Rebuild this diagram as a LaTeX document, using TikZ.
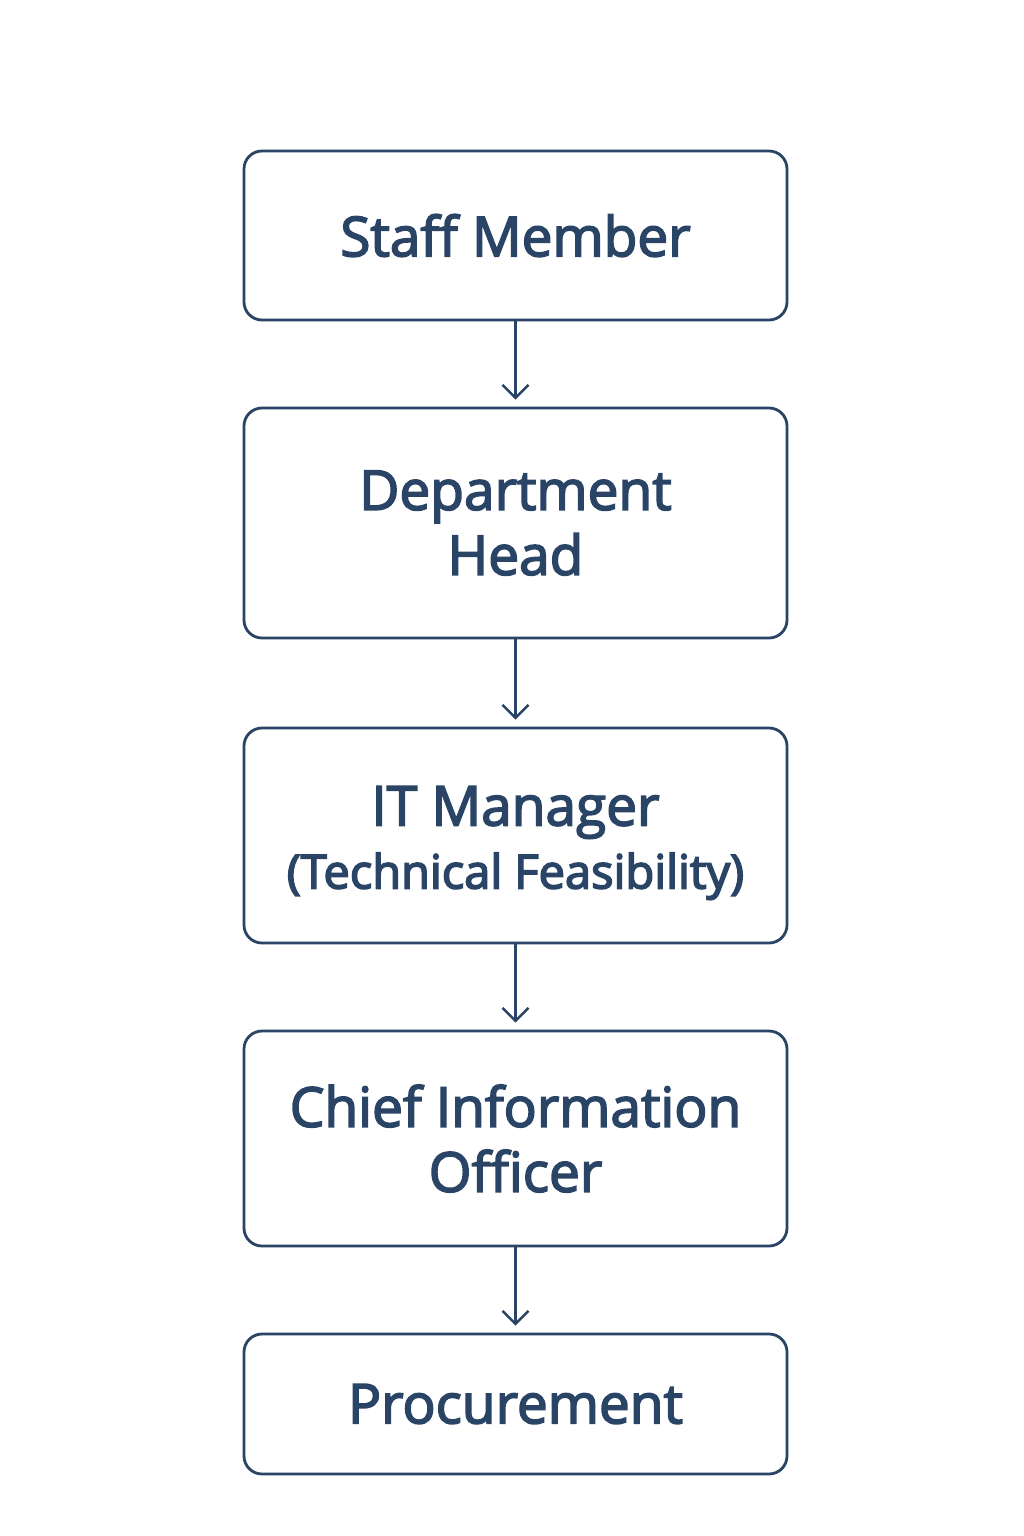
\documentclass[tikz,border=0pt]{standalone}
\usepackage{fontspec}
\setmainfont{Open Sans}
\usetikzlibrary{arrows.meta}
\definecolor{navy}{HTML}{2A4466}
\newcommand\heavytext[1]{\special{pdf:literal direct 2 Tr 1.6 w}#1\special{pdf:literal direct 0 Tr}}
\tikzset{
  stagebox/.style={draw=navy, line width=2.8pt, rounded corners=18pt, fill=white,
    minimum width=543pt, align=center, inner sep=0pt, text=navy,
    font=\fontsize{55pt}{65pt}\selectfont},
  stagetext/.style={align=center, inner sep=0pt, text=navy,
    font=\fontsize{55pt}{65pt}\selectfont},
  flow/.style={draw=navy, line width=2.4pt, -{Straight Barb[length=13pt,width=26pt,line width=2.4pt]}}
}
\begin{document}
\begin{tikzpicture}[x=1pt,y=-1pt]
\useasboundingbox[fill=white] (0,0) rectangle (1024,1536);
\node[stagebox, minimum height=169pt] (s1) at (515.5,235.5) {\heavytext{Staff Member}};
\node[stagebox, minimum height=230pt] (s2) at (515.5,523) {\heavytext{Department}\\\heavytext{Head}};
\node[stagebox, minimum height=215pt] (s3) at (515.5,835.5) {};
\node[stagetext] (s3t) at (515.5,843) {\heavytext{IT Manager}\\[-2pt]{\fontsize{47pt}{55pt}\selectfont \heavytext{(Technical Feasibility)}}};
\node[stagebox, minimum height=215pt] (s4) at (515.5,1138.5) {\heavytext{Chief Information}\\\heavytext{Officer}};
\node[stagebox, minimum height=140pt] (s5) at (515.5,1404) {\heavytext{Procurement}};
\draw[flow] (s1.south) -- ([yshift=7pt]s2.north);
\draw[flow] (s2.south) -- ([yshift=7pt]s3.north);
\draw[flow] (s3.south) -- ([yshift=7pt]s4.north);
\draw[flow] (s4.south) -- ([yshift=7pt]s5.north);
\end{tikzpicture}
\end{document}
